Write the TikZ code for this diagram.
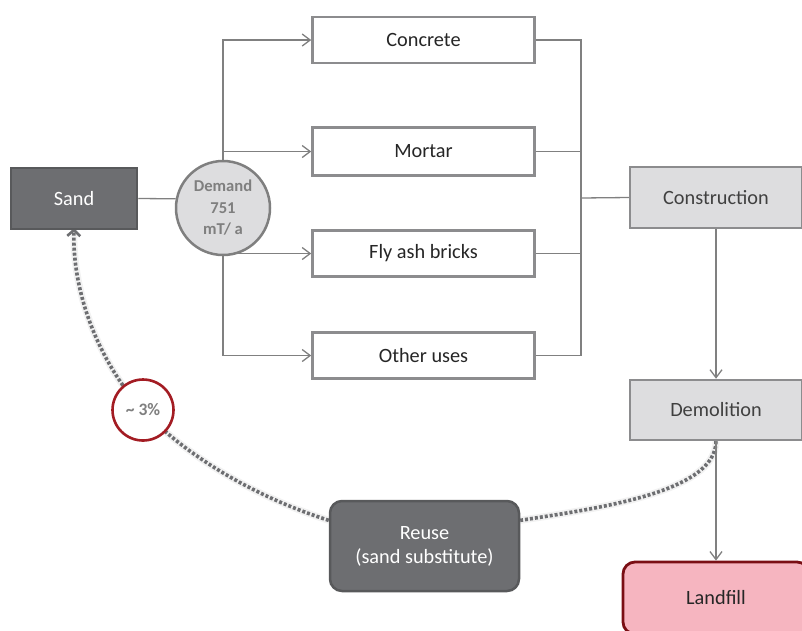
\documentclass[tikz,border=0pt]{standalone}
\usepackage{fontspec}
\setmainfont{Carlito}
\usetikzlibrary{arrows.meta,backgrounds}

\definecolor{darkfill}{HTML}{6D6E71}
\definecolor{darkedge}{HTML}{58595B}
\definecolor{lightfill}{HTML}{DDDDDF}
\definecolor{boxedge}{HTML}{8C8C8E}
\definecolor{linegray}{HTML}{808080}
\definecolor{textdark}{HTML}{262626}
\definecolor{textmid}{HTML}{404040}
\definecolor{labelgray}{HTML}{7F7F7F}
\definecolor{pinkfill}{HTML}{F6B5C0}
\definecolor{rededge}{HTML}{7A0E14}
\definecolor{ringred}{HTML}{A31C23}

\tikzset{
  bodyfont/.style={font=\fontsize{20.3}{24}\selectfont},
  darkbox/.style={bodyfont, draw=darkedge, fill=darkfill, line width=2.5pt, text=white, align=center},
  usebox/.style={bodyfont, draw=boxedge, fill=white, line width=2.5pt, text=textdark,
    minimum width=222pt, minimum height=46pt},
  stagebox/.style={bodyfont, draw=boxedge, fill=lightfill, line width=2.5pt, text=textmid,
    minimum width=172pt, minimum height=61pt},
  flow/.style={draw=linegray, line width=1.3pt},
  flowarrow/.style={flow, -{Straight Barb[length=8pt,width=12pt,line width=1.3pt]}},
  reuseline/.style={draw=darkfill, line width=3.6pt, dash pattern=on 3pt off 2pt},
  reusehalo/.style={draw=black!10, line width=7pt, opacity=0.5},
}

\begin{document}
\begin{tikzpicture}[x=1pt,y=-1pt]
\useasboundingbox (0,0) rectangle (802,630);
\clip (0,0) rectangle (802,630);

% supply and demand
\node[darkbox, minimum width=126pt, minimum height=61pt] (sand) at (74,198.5) {Sand};
\node[circle, draw=labelgray, fill=lightfill, line width=2.5pt, minimum size=94pt,
      text=labelgray, align=center, font=\bfseries\fontsize{16.6}{21.5}\selectfont]
      (demand) at (223,208) {Demand\\751\\mT/ a};

% uses of sand
\node[usebox] (concrete) at (423.5,40) {Concrete};
\node[usebox, minimum height=48pt] (mortar) at (423.5,151.5) {Mortar};
\node[usebox] (flyash) at (423.5,253.5) {Fly ash bricks};
\node[usebox] (other) at (423.5,355.5) {Other uses};

% life cycle stages
\node[stagebox] (construction) at (716,197.5) {Construction};
\node[stagebox, minimum height=60pt] (demolition) at (716,410) {Demolition};
\node[bodyfont, draw=rededge, fill=pinkfill, line width=2.8pt, rounded corners=12pt,
      text=textdark, minimum width=186pt, minimum height=72pt] (landfill) at (716,598) {Landfill};
\node[darkbox, rounded corners=12pt, minimum width=189pt, minimum height=90pt]
      (reuse) at (424.5,546) {Reuse\\(sand substitute)};
\node[circle, draw=ringred, fill=white, line width=2.6pt, minimum size=61pt,
      text=labelgray, font=\bfseries\fontsize{17.5}{20}\selectfont] (pct) at (143,410) {\char`~\ 3\%};

\coordinate (bus) at (581,198);

\begin{pgfonlayer}{background}
  % sand to demand
  \draw[flow] (sand.east) -- (demand.169);
  % demand split into uses
  \draw[flowarrow] (demand.north) |- (concrete.west);
  \draw[flowarrow] (demand.north) |- (mortar.west);
  \draw[flowarrow] (flyash.west -| demand.south) -- (flyash.west);
  \draw[flowarrow] (demand.south) |- (other.west);
  % uses merge into construction
  \draw[flow] (concrete.east) -| (bus);
  \draw[flow] (mortar.east) -| (bus);
  \draw[flow] (flyash.east) -| (bus);
  \draw[flow] (other.east) -| (bus);
  \draw[flow] (bus) -- (construction.west);

  % recycling loop
  \path[reusehalo] (demolition.south) .. controls (716,492) and (600,508) .. (reuse.15);
  \path[reusehalo] (reuse.165) .. controls (240,492) and (175,445) .. (pct.center)
        .. controls (105,370) and (72,300) .. (sand.south);
  \draw[reuseline] (demolition.south) .. controls (716,492) and (600,508) .. (reuse.15);
  \draw[reuseline, -{Straight Barb[length=6pt,width=13pt,line width=2.6pt]}]
        (reuse.165) .. controls (240,492) and (175,445) .. (pct.center)
        .. controls (105,370) and (72,300) .. ([yshift=2pt]sand.south);
\end{pgfonlayer}

% life cycle flow
\draw[flowarrow] (construction.south) -- (demolition.north);
\draw[flowarrow] (demolition.south) -- (landfill.north);
\end{tikzpicture}
\end{document}
